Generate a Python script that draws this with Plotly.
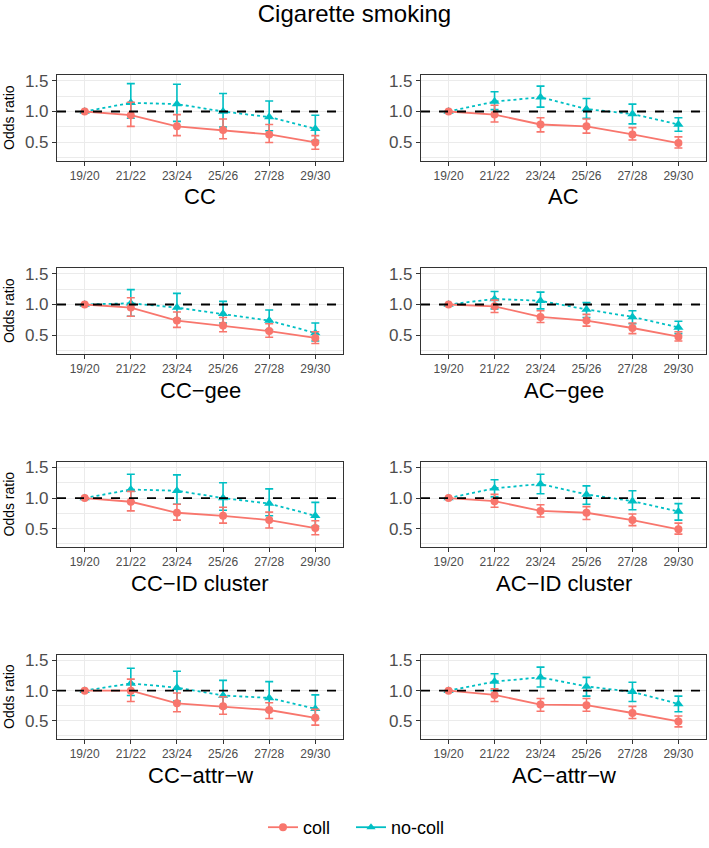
import plotly.graph_objects as go

W, H = 709, 848

CATEGORIES = ["19/20", "21/22", "23/24", "25/26", "27/28", "29/30"]
PANELS = ["CC", "AC", "CC−gee", "AC−gee", "CC−ID cluster", "AC−ID cluster", "CC−attr−w", "AC−attr−w"]
SERIES = ["coll", "no-coll"]
REF_LINE = 1.0
Y_TICKS = [0.5, 1.0, 1.5]
Y_TICK_LABELS = ["0.5", "1.0", "1.5"]
Y_MINOR = [0.25, 0.75, 1.25]

# odds ratio estimates, lower and upper CI per panel
coll_or = {
    "CC": [1.0, 0.94, 0.76, 0.70, 0.63, 0.50],
    "AC": [1.0, 0.95, 0.79, 0.76, 0.63, 0.49],
    "CC−gee": [1.0, 0.95, 0.74, 0.66, 0.57, 0.46],
    "AC−gee": [1.0, 0.97, 0.80, 0.74, 0.62, 0.48],
    "CC−ID cluster": [1.0, 0.94, 0.76, 0.71, 0.64, 0.51],
    "AC−ID cluster": [1.0, 0.95, 0.79, 0.76, 0.64, 0.49],
    "CC−attr−w": [1.0, 1.00, 0.79, 0.74, 0.68, 0.55],
    "AC−attr−w": [1.0, 0.93, 0.77, 0.76, 0.63, 0.49],
}
coll_lo = {
    "CC": [1.0, 0.76, 0.61, 0.56, 0.50, 0.39],
    "AC": [1.0, 0.83, 0.67, 0.65, 0.54, 0.41],
    "CC−gee": [1.0, 0.81, 0.63, 0.56, 0.47, 0.37],
    "AC−gee": [1.0, 0.87, 0.71, 0.65, 0.53, 0.41],
    "CC−ID cluster": [1.0, 0.79, 0.64, 0.59, 0.51, 0.40],
    "AC−ID cluster": [1.0, 0.85, 0.69, 0.65, 0.55, 0.41],
    "CC−attr−w": [1.0, 0.82, 0.65, 0.61, 0.54, 0.43],
    "AC−attr−w": [1.0, 0.82, 0.66, 0.66, 0.54, 0.40],
}
coll_hi = {
    "CC": [1.0, 1.15, 0.95, 0.88, 0.79, 0.61],
    "AC": [1.0, 1.10, 0.90, 0.88, 0.74, 0.59],
    "CC−gee": [1.0, 1.11, 0.88, 0.79, 0.69, 0.56],
    "AC−gee": [1.0, 1.07, 0.90, 0.84, 0.70, 0.56],
    "CC−ID cluster": [1.0, 1.11, 0.90, 0.85, 0.77, 0.63],
    "AC−ID cluster": [1.0, 1.06, 0.89, 0.86, 0.74, 0.59],
    "CC−attr−w": [1.0, 1.19, 0.96, 0.90, 0.80, 0.69],
    "AC−attr−w": [1.0, 1.03, 0.87, 0.87, 0.74, 0.58],
}
nocoll_or = {
    "CC": [1.0, 1.14, 1.12, 1.00, 0.91, 0.72],
    "AC": [1.0, 1.16, 1.23, 1.04, 0.96, 0.79],
    "CC−gee": [1.0, 1.02, 0.95, 0.85, 0.74, 0.54],
    "AC−gee": [1.0, 1.09, 1.06, 0.92, 0.80, 0.63],
    "CC−ID cluster": [1.0, 1.14, 1.12, 1.00, 0.91, 0.71],
    "AC−ID cluster": [1.0, 1.16, 1.23, 1.06, 0.95, 0.78],
    "CC−attr−w": [1.0, 1.12, 1.05, 0.92, 0.88, 0.70],
    "AC−attr−w": [1.0, 1.15, 1.22, 1.07, 0.98, 0.78],
}
nocoll_lo = {
    "CC": [1.0, 0.89, 0.84, 0.75, 0.69, 0.53],
    "AC": [1.0, 1.03, 1.07, 0.89, 0.80, 0.68],
    "CC−gee": [1.0, 0.81, 0.77, 0.70, 0.59, 0.41],
    "AC−gee": [1.0, 0.93, 0.93, 0.79, 0.69, 0.53],
    "CC−ID cluster": [1.0, 0.94, 0.90, 0.80, 0.71, 0.54],
    "AC−ID cluster": [1.0, 1.02, 1.07, 0.90, 0.81, 0.64],
    "CC−attr−w": [1.0, 0.92, 0.83, 0.72, 0.67, 0.54],
    "AC−attr−w": [1.0, 1.00, 1.06, 0.91, 0.82, 0.65],
}
nocoll_hi = {
    "CC": [1.0, 1.45, 1.44, 1.29, 1.17, 0.94],
    "AC": [1.0, 1.32, 1.41, 1.21, 1.12, 0.90],
    "CC−gee": [1.0, 1.24, 1.18, 1.05, 0.91, 0.70],
    "AC−gee": [1.0, 1.21, 1.20, 1.03, 0.90, 0.73],
    "CC−ID cluster": [1.0, 1.39, 1.38, 1.25, 1.15, 0.93],
    "AC−ID cluster": [1.0, 1.30, 1.39, 1.20, 1.12, 0.91],
    "CC−attr−w": [1.0, 1.37, 1.32, 1.17, 1.15, 0.93],
    "AC−attr−w": [1.0, 1.28, 1.39, 1.22, 1.14, 0.91],
}

RED = "#F8766D"
TEAL = "#00BFC4"
FONT = "Liberation Sans"

# layout in pixels
col_x = [(57, 343), (421, 706)]
row_y = [(75, 161), (268, 354), (462, 547), (655, 739)]

fig = go.Figure()

def px_to_paper_x(px):
    return px / W

def px_to_paper_y(py):
    return 1 - py / H

for i, name in enumerate(PANELS):
    r, c = divmod(i, 2)
    idx = i + 1
    xa = "x" if idx == 1 else f"x{idx}"
    ya = "y" if idx == 1 else f"y{idx}"
    x0, x1 = col_x[c]
    y0, y1 = row_y[r]

    series_data = [
        ("no-coll", nocoll_or[name], nocoll_lo[name], nocoll_hi[name], TEAL, "dot", "triangle-up"),
        ("coll", coll_or[name], coll_lo[name], coll_hi[name], RED, "solid", "circle"),
    ]
    for sname, vals, lo, hi, col, dash, sym in series_data:
        fig.add_trace(go.Scatter(
            x=CATEGORIES, y=vals, xaxis=xa, yaxis=ya,
            mode="lines+markers", name=sname, showlegend=False,
            line=dict(color=col, width=1.8, dash=dash),
            marker=dict(color=col, size=8 if sym == "circle" else 9, symbol=sym),
            error_y=dict(type="data", symmetric=False,
                         array=[h - v for h, v in zip(hi, vals)],
                         arrayminus=[v - l for v, l in zip(vals, lo)],
                         color=col, thickness=1.6, width=4),
        ))

    fig.add_shape(type="line", xref=f"{xa} domain", yref=ya,
                  x0=0, x1=1, y0=REF_LINE, y1=REF_LINE,
                  line=dict(color="black", width=1.8, dash="dash"), layer="above")

    xkey = "xaxis" if idx == 1 else f"xaxis{idx}"
    ykey = "yaxis" if idx == 1 else f"yaxis{idx}"
    fig.update_layout({
        xkey: dict(domain=[px_to_paper_x(x0), px_to_paper_x(x1)], anchor=ya,
                   type="category", categoryorder="array", categoryarray=CATEGORIES,
                   range=[-0.6, 5.6], showgrid=True, gridcolor="#EBEBEB", gridwidth=1.1,
                   showline=True, linecolor="#333333", linewidth=1.1, mirror=True,
                   ticks="outside", ticklen=4, tickcolor="#333333", tickwidth=1.1,
                   tickfont=dict(family=FONT, size=12, color="#4D4D4D"),
                   zeroline=False, fixedrange=True),
        ykey: dict(domain=[px_to_paper_y(y1), px_to_paper_y(y0)], anchor=xa,
                   range=[0.2, 1.59], tickvals=Y_TICKS, ticktext=Y_TICK_LABELS,
                   showgrid=True, gridcolor="#EBEBEB", gridwidth=1.1,
                   minor=dict(tickvals=Y_MINOR, showgrid=True, gridcolor="#EBEBEB", gridwidth=0.6, ticks=""),
                   showline=True, linecolor="#333333", linewidth=1.1, mirror=True,
                   ticks="outside", ticklen=4, tickcolor="#333333", tickwidth=1.1,
                   tickfont=dict(family=FONT, size=17, color="#4D4D4D"),
                   zeroline=False, fixedrange=True),
    })

    # panel title under the axis
    fig.add_annotation(text=name, xref="paper", yref="paper",
                       x=px_to_paper_x((x0 + x1) / 2), y=px_to_paper_y(y1 + 36),
                       xanchor="center", yanchor="middle", showarrow=False,
                       font=dict(family=FONT, size=22, color="black"))
    if c == 0:
        fig.add_annotation(text="Odds ratio", xref="paper", yref="paper",
                           x=px_to_paper_x(9), y=px_to_paper_y((y0 + y1) / 2),
                           xanchor="center", yanchor="middle", showarrow=False, textangle=-90,
                           font=dict(family=FONT, size=14, color="black"))

# legend entries (solid keys, as in the reference), one legend box per series
legend_slots = [("coll", RED, "circle", "legend", 263), ("no-coll", TEAL, "triangle-up", "legend2", 351)]
for sname, col, sym, lg, lx in legend_slots:
    fig.add_trace(go.Scatter(x=[None], y=[None], mode="lines+markers", name=sname,
                             line=dict(color=col, width=1.8), legend=lg,
                             marker=dict(color=col, size=8, symbol=sym), showlegend=True))
    fig.update_layout({lg: dict(orientation="h", x=lx / W, xanchor="left",
                                y=px_to_paper_y(846), yanchor="bottom",
                                font=dict(family=FONT, size=18, color="black"), itemwidth=30,
                                bgcolor="rgba(0,0,0,0)")})

fig.update_layout(
    width=W, height=H,
    margin=dict(l=0, r=0, t=0, b=0, autoexpand=False),
    paper_bgcolor="white", plot_bgcolor="white",
    title=dict(text="Cigarette smoking", x=0.5, xanchor="center",
               y=px_to_paper_y(14), yanchor="middle", yref="paper",
               font=dict(family=FONT, size=24, color="black")),
    showlegend=True,
)

fig.write_html("out.html", config={"displayModeBar": False},
               post_script="document.body.style.margin='0';document.body.style.overflow='hidden';")
